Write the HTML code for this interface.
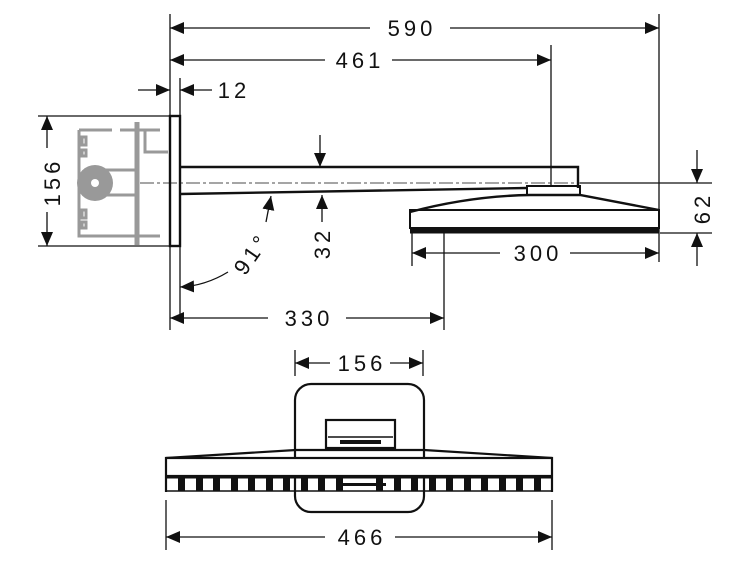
<!DOCTYPE html>
<html><head><style>
html,body{margin:0;padding:0;background:#fff;}
svg{display:block;}
text{font-family:"Liberation Sans",sans-serif;font-size:22px;fill:#111;letter-spacing:4px;}
</style></head><body>
<svg width="750" height="563" viewBox="0 0 750 563" xmlns="http://www.w3.org/2000/svg">
<defs>
<marker id="b" viewBox="0 0 14 12" refX="14" refY="6" markerWidth="14" markerHeight="12" orient="auto-start-reverse" markerUnits="userSpaceOnUse"><path d="M0,0L14,6L0,12Z" fill="#111"/></marker>
</defs>
<g stroke="#111" stroke-width="1.3" fill="none">
<line x1="170" y1="14" x2="170" y2="330"/>
<line x1="659" y1="14" x2="659" y2="262"/>
<line x1="551" y1="45" x2="551" y2="186"/>
<line x1="180" y1="78" x2="180" y2="320"/>
<line x1="38" y1="116" x2="170" y2="116"/>
<line x1="38" y1="246" x2="170" y2="246"/>
<line x1="412" y1="233" x2="412" y2="266"/>
<line x1="444" y1="233" x2="444" y2="330"/>
<line x1="660" y1="233" x2="712" y2="233"/>
<line x1="580" y1="183" x2="712" y2="183"/>
<line x1="170" y1="28" x2="370" y2="28" marker-start="url(#b)"/>
<line x1="450" y1="28" x2="659" y2="28" marker-end="url(#b)"/>
<line x1="170" y1="60" x2="325" y2="60" marker-start="url(#b)"/>
<line x1="392" y1="60" x2="551" y2="60" marker-end="url(#b)"/>
<line x1="138" y1="90" x2="170" y2="90" marker-end="url(#b)"/>
<line x1="212" y1="90" x2="180" y2="90" marker-end="url(#b)"/>
<line x1="47" y1="116" x2="47" y2="148" marker-start="url(#b)"/>
<line x1="47" y1="212" x2="47" y2="246" marker-end="url(#b)"/>
<line x1="320" y1="135" x2="320" y2="167" marker-end="url(#b)"/>
<line x1="322" y1="222" x2="322" y2="195" marker-end="url(#b)"/>
<line x1="266" y1="222" x2="271" y2="196" marker-end="url(#b)"/>
<path d="M228,272 Q205,286 180,287" marker-end="url(#b)"/>
<line x1="697" y1="150" x2="697" y2="183" marker-end="url(#b)"/>
<line x1="697" y1="266" x2="697" y2="233" marker-end="url(#b)"/>
<line x1="412" y1="253" x2="500" y2="253" marker-start="url(#b)"/>
<line x1="570" y1="253" x2="659" y2="253" marker-end="url(#b)"/>
<line x1="170" y1="318" x2="268" y2="318" marker-start="url(#b)"/>
<line x1="346" y1="318" x2="444" y2="318" marker-end="url(#b)"/>
<line x1="295" y1="350" x2="295" y2="376"/>
<line x1="423" y1="350" x2="423" y2="376"/>
<line x1="295" y1="363" x2="330" y2="363" marker-start="url(#b)"/>
<line x1="390" y1="363" x2="423" y2="363" marker-end="url(#b)"/>
<line x1="166" y1="500" x2="166" y2="550"/>
<line x1="552" y1="500" x2="552" y2="550"/>
<line x1="166" y1="537" x2="325" y2="537" marker-start="url(#b)"/>
<line x1="395" y1="537" x2="552" y2="537" marker-end="url(#b)"/>
<line x1="140" y1="183" x2="580" y2="183" stroke-width="0.8" stroke-dasharray="14,3,3,3"/>
</g>
<g stroke="#999" stroke-width="3" fill="none">
<path d="M79,130 H112 M120,130 H160"/>
<path d="M79,130 V236 H160"/>
<line x1="137" y1="122" x2="137" y2="245" stroke-width="5"/>
<path d="M145,130 V152 H168"/>
<path d="M84,170 H135 M84,195 H135"/>
<rect x="82" y="137" width="4" height="8"/><rect x="82" y="150" width="4" height="6"/>
<rect x="82" y="210" width="4" height="8"/><rect x="82" y="222" width="4" height="6"/>
</g>
<circle cx="95" cy="183" r="18" fill="#999"/>
<circle cx="95" cy="183" r="4" fill="#fff"/>
<g stroke="#111" stroke-width="2.4" fill="none">
<rect x="170" y="116" width="10" height="130"/>
<path d="M180,167 H578 V188"/>
<path d="M180,194 L527,188"/>
<rect x="527" y="186" width="53" height="9" stroke-width="2"/>
<path d="M410,212 Q470,196 530,195 H580 L659,210"/>
<rect x="410" y="210" width="249" height="18" stroke-width="2"/>
<line x1="410" y1="231" x2="659" y2="231" stroke-width="5"/>
</g>
<g stroke="#111" stroke-width="2.2" fill="none">
<rect x="295" y="384" width="129" height="128" rx="16"/>
<rect x="326" y="420" width="69" height="28" fill="#fff"/>
<line x1="328" y1="437" x2="393" y2="437" stroke-width="1.5"/>
<path d="M166,458 L296,450 H424 L552,458"/>
<rect x="166" y="458" width="386" height="18" fill="#fff"/>
<line x1="166" y1="477" x2="552" y2="477" stroke-width="3"/>
<line x1="166" y1="477" x2="166" y2="492"/><line x1="552" y1="477" x2="552" y2="492"/>
<line x1="166" y1="491" x2="552" y2="491" stroke-width="1.5"/>
</g>
<g fill="#111">
<rect x="340" y="440" width="41" height="4"/>
<rect x="178" y="478" width="7" height="13"/><rect x="196" y="478" width="7" height="13"/><rect x="213" y="478" width="7" height="13"/><rect x="231" y="478" width="7" height="13"/><rect x="248" y="478" width="7" height="13"/><rect x="266" y="478" width="7" height="13"/><rect x="283" y="478" width="7" height="13"/><rect x="301" y="478" width="7" height="13"/><rect x="318" y="478" width="7" height="13"/><rect x="336" y="478" width="7" height="13"/><rect x="336" y="483" width="50" height="3"/><rect x="376" y="478" width="7" height="13"/><rect x="394" y="478" width="7" height="13"/><rect x="411" y="478" width="7" height="13"/><rect x="429" y="478" width="7" height="13"/><rect x="446" y="478" width="7" height="13"/><rect x="464" y="478" width="7" height="13"/><rect x="481" y="478" width="7" height="13"/><rect x="499" y="478" width="7" height="13"/><rect x="516" y="478" width="7" height="13"/><rect x="534" y="478" width="7" height="13"/>
</g>
<text x="412" y="36" text-anchor="middle">590</text>
<text x="360" y="68" text-anchor="middle">461</text>
<text x="234" y="98" text-anchor="middle">12</text>
<text transform="translate(60,182) rotate(-90)" text-anchor="middle">156</text>
<text transform="translate(330,243) rotate(-90)" text-anchor="middle">32</text>
<text transform="translate(258,258) rotate(-55)" text-anchor="middle">91°</text>
<text transform="translate(710,208) rotate(-90)" text-anchor="middle">62</text>
<text x="538" y="261" text-anchor="middle">300</text>
<text x="309" y="326" text-anchor="middle">330</text>
<text x="362" y="371" text-anchor="middle">156</text>
<text x="362" y="545" text-anchor="middle">466</text>
</svg>
</body></html>
